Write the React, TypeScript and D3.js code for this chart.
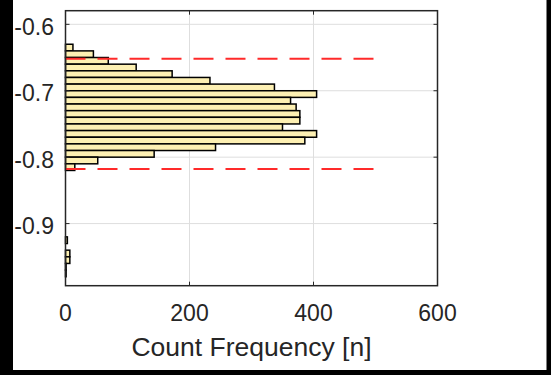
import React from 'react';
import * as d3 from 'd3';

// histogram bins (upper / lower edge) and counts
const binUpper = [-0.63, -0.64, -0.65, -0.66, -0.67, -0.68, -0.69, -0.70, -0.71, -0.72, -0.73, -0.74, -0.75, -0.76, -0.77, -0.78, -0.79, -0.80, -0.81, -0.92, -0.94, -0.95, -0.96, -0.97];
const binLower = [-0.64, -0.65, -0.66, -0.67, -0.68, -0.69, -0.70, -0.71, -0.72, -0.73, -0.74, -0.75, -0.76, -0.77, -0.78, -0.79, -0.80, -0.81, -0.82, -0.93, -0.95, -0.96, -0.97, -0.98];
const counts = [12, 45, 69, 114, 172, 233, 337, 405, 363, 372, 378, 378, 350, 405, 386, 242, 143, 52, 15, 3, 7, 7, 1, 1];

// dashed limit lines
const limitValues = [-0.652, -0.818];
const limitLength = 500;

const xTicks = [0, 200, 400, 600];
const yTicks = [-0.6, -0.7, -0.8, -0.9];

const W = 551;
const H = 375;
const font = '"Liberation Sans", Arial, Helvetica, sans-serif';
const textColor = '#262626';

export default function App() {
  const x = d3.scaleLinear().domain([0, 600]).range([65.5, 437.5]);
  const y = d3.scaleLinear().domain([-0.9935, -0.5795]).range([285.7, 10.7]);
  const [x0, x1] = x.range();
  const [yb, yt] = y.range();
  const tick = 4;

  return (
    <svg width={W} height={H} style={{ position: 'absolute', left: 0, top: 0, background: '#fff' }}>
      {/* grid */}
      {xTicks.slice(1, -1).map(t => (
        <line key={'gx' + t} x1={x(t)} x2={x(t)} y1={yt} y2={yb} stroke="#dedede" strokeWidth={1} />
      ))}
      {yTicks.map(t => (
        <line key={'gy' + t} x1={x0} x2={x1} y1={y(t)} y2={y(t)} stroke="#dedede" strokeWidth={1} />
      ))}

      {/* bars */}
      {counts.map((c, i) => (
        <rect
          key={'b' + i}
          x={x(0)}
          y={y(binUpper[i])}
          width={x(c) - x(0)}
          height={y(binLower[i]) - y(binUpper[i])}
          fill="#fdf0b3"
          stroke="#000"
          strokeWidth={1.5}
        />
      ))}

      {/* limit lines */}
      {limitValues.map(v => (
        <line key={'l' + v} x1={x(0)} x2={x(limitLength)} y1={y(v)} y2={y(v)}
          stroke="#ff2a2a" strokeWidth={2} strokeDasharray="20,12" />
      ))}

      {/* axes box and ticks */}
      <rect x={x0} y={yt} width={x1 - x0} height={yb - yt} fill="none" stroke={textColor} strokeWidth={1.5} />
      {xTicks.map(t => (
        <g key={'tx' + t}>
          <line x1={x(t)} x2={x(t)} y1={yb} y2={yb - tick} stroke={textColor} strokeWidth={1} />
          <line x1={x(t)} x2={x(t)} y1={yt} y2={yt + tick} stroke={textColor} strokeWidth={1} />
        </g>
      ))}
      {yTicks.map(t => (
        <g key={'ty' + t}>
          <line x1={x0} x2={x0 + tick} y1={y(t)} y2={y(t)} stroke={textColor} strokeWidth={1} />
          <line x1={x1} x2={x1 - tick} y1={y(t)} y2={y(t)} stroke={textColor} strokeWidth={1} />
        </g>
      ))}

      {/* tick labels */}
      {xTicks.map(t => (
        <text key={'lx' + t} x={x(t)} y={321} textAnchor="middle" fontFamily={font} fontSize={23} fill={textColor}>
          {t}
        </text>
      ))}
      {yTicks.map(t => (
        <text key={'ly' + t} x={54} y={y(t) + 10.5} textAnchor="end" fontFamily={font} fontSize={23} fill={textColor}>
          {t.toFixed(1)}
        </text>
      ))}

      <text x={(x0 + x1) / 2} y={356} textAnchor="middle" fontFamily={font} fontSize={26.5} fill={textColor}>
        Count Frequency [n]
      </text>

      {/* outer black frame */}
      <rect x={0} y={0} width={13} height={H} fill="#000" />
      <rect x={546.5} y={0} width={W - 546.5} height={H} fill="#000" />
      <rect x={0} y={370} width={W} height={H - 370} fill="#000" />
    </svg>
  );
}
